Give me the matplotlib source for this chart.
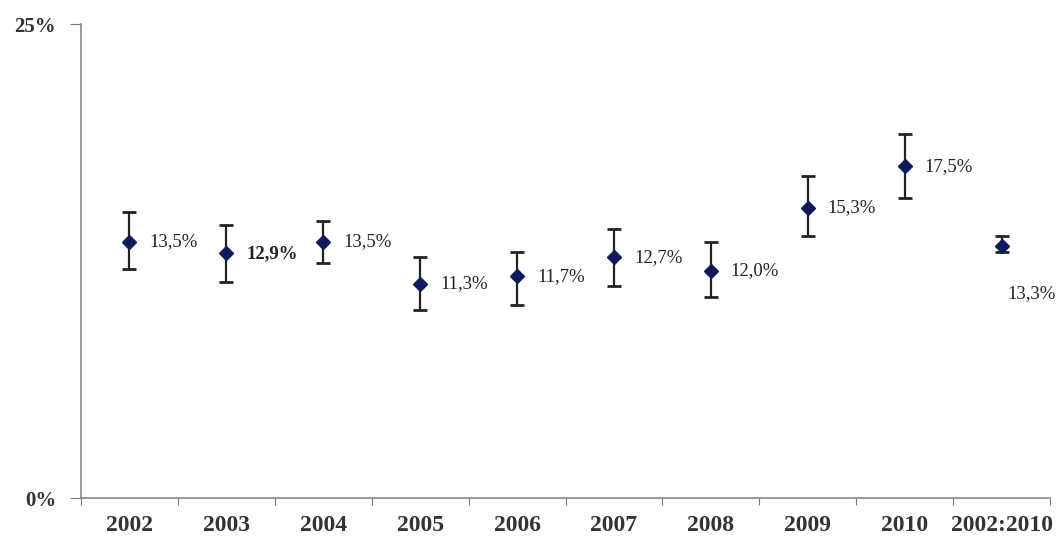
import numpy as np
import matplotlib.pyplot as plt

plt.rcParams['font.family'] = ['Liberation Serif', 'DejaVu Serif']

# data
categories = ['2002', '2003', '2004', '2005', '2006', '2007', '2008', '2009', '2010', '2002:2010']
values = [13.5, 12.9, 13.5, 11.3, 11.7, 12.7, 12.0, 15.3, 17.5, 13.3]
upper = [15.1, 14.4, 14.6, 12.7, 13.0, 14.2, 13.5, 17.0, 19.2, 13.8]
lower = [12.1, 11.4, 12.4, 9.9, 10.2, 11.2, 10.6, 13.8, 15.8, 13.0]
labels = ['13,5%', '12,9%', '13,5%', '11,3%', '11,7%', '12,7%', '12,0%', '15,3%', '17,5%', '13,3%']

x = np.arange(len(categories))
vals = np.array(values)
err = [vals - np.array(lower), np.array(upper) - vals]

fig = plt.figure(figsize=(10.62, 5.45), dpi=100)
ax = fig.add_axes([0.0763, 0.0862, 0.9124, 0.8697])

ax.errorbar(x, vals, yerr=err, fmt='D', color='#0d1a5c', markersize=7,
            ecolor='#222222', elinewidth=1.6, capsize=5, capthick=2)

for i, (v, lab) in enumerate(zip(vals, labels)):
    if i == len(vals) - 1:
        ax.annotate(lab, (x[i], v), xytext=(30, -48), textcoords='offset pixels',
                    ha='center', va='center', fontsize=13.5, color='#222222')
    else:
        ax.annotate(lab, (x[i], v), xytext=(20, 0), textcoords='offset pixels',
                    ha='left', va='center', fontsize=13.5, color='#222222',
                    fontweight='bold' if i == 1 else 'normal')

ax.set_xlim(-0.5, len(categories) - 0.5)
ax.set_ylim(0, 25)
ax.set_yticks([0, 25])
ax.set_yticklabels(['0%', '25%'], fontsize=15, fontweight='bold', color='#333333')
ax.tick_params(axis='y', length=8, color='#777777', pad=10)

# ticks at category boundaries, labels at centers
ax.set_xticks(np.arange(-0.5, len(categories), 1))
ax.set_xticklabels([])
ax.tick_params(axis='x', which='major', length=5, color='#777777')
ax.set_xticks(x, minor=True)
ax.set_xticklabels(categories, minor=True, fontsize=17, fontweight='bold', color='#333333')
ax.tick_params(axis='x', which='minor', length=0, pad=12)

for s in ['top', 'right']:
    ax.spines[s].set_visible(False)
for s in ['left', 'bottom']:
    ax.spines[s].set_color('#888888')
    ax.spines[s].set_linewidth(1.2)

fig.savefig('out.png', dpi=100)
